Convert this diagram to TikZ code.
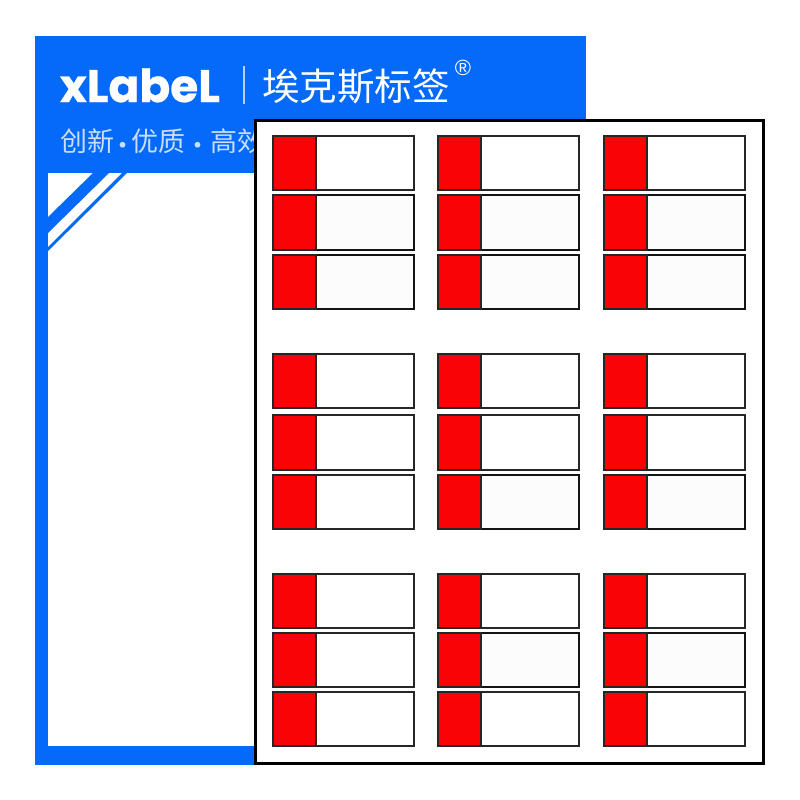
\documentclass[tikz,border=0pt]{standalone}
\usepackage{fontspec}
\setmainfont{Poppins}
\newfontfamily\cjk{Noto Sans CJK SC}
\newfontfamily\logo{Poppins}[FakeBold=0.6]
\newfontfamily\regfont{Liberation Sans}
\definecolor{xblue}{RGB}{5,105,250}
\definecolor{xred}{RGB}{250,3,6}
\definecolor{xsub}{RGB}{200,222,253}
\definecolor{xtint}{RGB}{252,252,252}
\tikzset{
  txt/.style={inner sep=0pt,outer sep=0pt,text=white},
  redcell/.style={fill=xred,draw=black!85,line width=2pt},
  labelbox/.style={fill=white,draw=black!85,line width=2pt},
  tintbox/.style={fill=xtint,draw=black!92,line width=2.2pt}
}
\newcommand{\lbl}[4]{%
  \draw[#4] (#1,#2) rectangle (#1+141,#3);
  \draw[redcell] (#1,#2) rectangle (#1+43,#3);
}
\begin{document}
\begin{tikzpicture}[x=1pt,y=-1pt]
\useasboundingbox (0,0) rectangle (800,800);
\fill[white] (0,0) rectangle (800,800);
\fill[xblue] (35,36) rectangle (586,765);
\fill[white] (48,173) rectangle (586,746);
\fill[xblue] (93,173) -- (109,173) -- (48,233) -- (48,217) -- cycle;
\fill[xblue] (122,173) -- (127,173) -- (48,251) -- (48,247) -- cycle;
\node[txt,anchor=base west] (brand) at (60,102) {\fontsize{45.5}{45.5}\selectfont\bfseries\logo xLabeL};
\coordinate (bartop) at (244,66);
\coordinate (barbot) at (244,104);
\draw[white!70!xblue,line width=1.2pt] (bartop) -- (barbot);
\node[txt,anchor=west] (cn) at (262,86) {\fontsize{37.5}{37.5}\selectfont\cjk 埃克斯标签};
\node[txt,anchor=center] (reg) at (463,68) {\fontsize{22}{22}\selectfont\regfont ®};
\node[txt,anchor=west,text=xsub] (sub) at (60,142) {\fontsize{27}{27}\selectfont\cjk 创新\makebox[17pt][c]{\raisebox{-4pt}{·}}优质\makebox[25pt][c]{\raisebox{-4pt}{·}}高效};
\draw[fill=white,draw=black,line width=3pt] (255.5,120) rectangle (763.5,763.5);
\foreach \x/\a/\b in {273/136/190,273/354/408,273/415/470,273/475/529,273/574/628,273/633/687,273/692/746,
  438/136/190,438/354/408,438/415/470,438/574/628,438/692/746,
  604/136/190,604/354/408,604/415/470,604/574/628,604/692/746}{
  \lbl{\x}{\a}{\b}{labelbox}
}
\foreach \x/\a/\b in {273/195/250,273/255/309,438/195/250,438/255/309,438/475/529,438/633/687,
  604/195/250,604/255/309,604/475/529,604/633/687}{
  \lbl{\x}{\a}{\b}{tintbox}
}
\end{tikzpicture}
\end{document}
